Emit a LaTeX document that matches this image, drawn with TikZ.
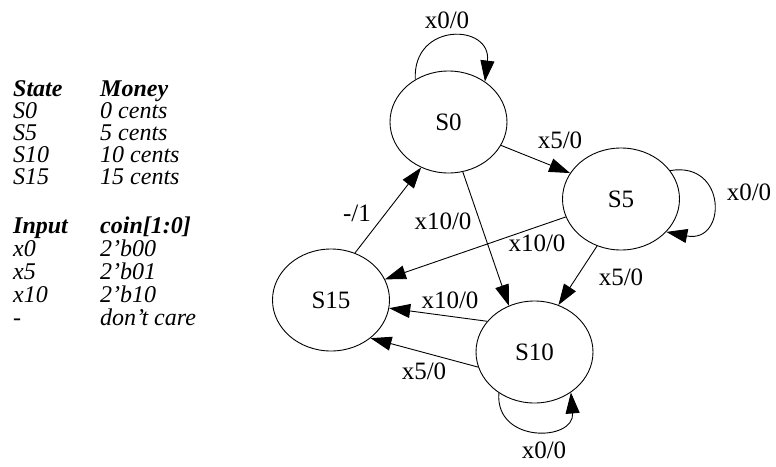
\documentclass[tikz,border=0pt]{standalone}
\usepackage{fontspec}
\setmainfont{Liberation Serif}
\usepackage{tikz}
\usetikzlibrary{arrows.meta,positioning,shapes.geometric}

\begin{document}
\begin{tikzpicture}[
    x=1pt, y=-1pt,
    >={Triangle[length=21pt,width=14pt]},
    state/.style={ellipse, draw, line width=0.9pt, minimum width=117pt, minimum height=102pt, inner sep=0pt, font=\fontsize{25}{30}\selectfont},
    lbl/.style={inner sep=0pt, font=\fontsize{25}{30}\selectfont},
    arr/.style={->, line width=0.9pt},
]
\useasboundingbox (0,0) rectangle (776,466);

% Legend
\node[anchor=base west, inner sep=0pt, font=\fontsize{24}{21}\selectfont\itshape] (legend) at (13,96) {%
  \begin{tabular}[t]{@{}p{87pt}@{}l@{}}
  \textbf{State} & \textbf{Money}\\
  S0  & 0 cents\\
  S5  & 5 cents\\
  S10 & 10 cents\\
  S15 & 15 cents\\[26pt]
  \textbf{Input} & \textbf{coin[1:0]}\\
  x0  & 2’b00\\
  x5  & 2’b01\\
  x10 & 2’b10\\
  -   & don’t care
  \end{tabular}};

% States
\node[state] (s0)  at (448.5,122) {S0};
\node[state] (s5)  at (621,199)   {S5};
\node[state] (s15) at (331,300)   {S15};
\node[state] (s10) at (534.5,352) {S10};

% Transitions
\draw[arr] (s0.128) .. controls +(-3,-58) and +(7,-58) .. (s0.48);
\draw[arr] (s0.-24) -- (s5.153);
\draw[arr] (s15.63) -- (s0.-121);
\draw[arr] (s0.-74) -- (s10.119);
\draw[arr] (s5.30) .. controls +(57,-10) and +(61,12) .. (s5.-36);
\draw[arr] (s5.198) -- (s15.21);
\draw[arr] (s5.-117) -- (s10.63);
\draw[arr] (s10.147) -- (s15.-8);
\draw[arr] (s10.195) -- (s15.-44);
\draw[arr] (s10.-131) .. controls +(-4,51) and +(4,49) .. (s10.-48);

% Labels
\node[lbl] (l00) at (447,20)  {x0/0};
\node[lbl] (l05) at (560,140) {x5/0};
\node[lbl] (l150) at (357,213) {-/1};
\node[lbl] (l010) at (443,221) {x10/0};
\node[lbl] (l55) at (749,192) {x0/0};
\node[lbl] (l515) at (537,243) {x10/0};
\node[lbl] (l510) at (621,277) {x5/0};
\node[lbl] (l1015a) at (450,300) {x10/0};
\node[lbl] (l1015b) at (424,371) {x5/0};
\node[lbl] (l1010) at (544,450) {x0/0};

\end{tikzpicture}
\end{document}
